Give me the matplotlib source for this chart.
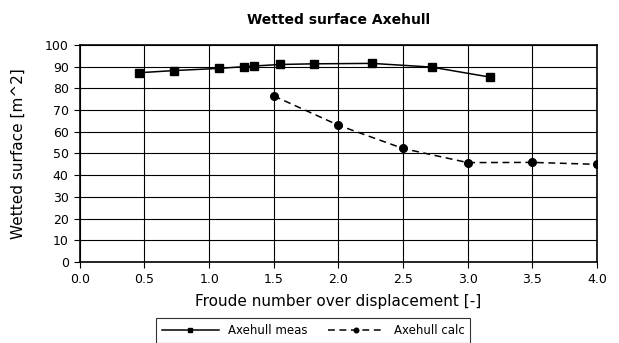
import numpy as np
import matplotlib.pyplot as plt

# Measured wetted surface
fr_meas = [0.46, 0.73, 1.08, 1.27, 1.35, 1.55, 1.81, 2.26, 2.72, 3.17]
ws_meas = [87.2, 88.2, 89.2, 90.0, 90.3, 91.0, 91.3, 91.5, 89.8, 85.2]

# Calculated wetted surface
fr_calc = [1.5, 2.0, 2.5, 3.0, 3.5, 4.0]
ws_calc = [76.5, 63.0, 52.3, 45.8, 45.9, 45.0]

fig = plt.figure(figsize=(6.19, 3.43), dpi=100)
ax = fig.add_axes([0.129, 0.236, 0.8355, 0.633])

ax.plot(fr_meas, ws_meas, color='black', marker='s', markersize=5.5,
        linewidth=1.1, label='Axehull meas')
ax.plot(fr_calc, ws_calc, color='black', marker='o', markersize=5.5,
        linewidth=1.1, linestyle=(0, (4.5, 3)), label='Axehull calc')

ax.set_xlim(0, 4)
ax.set_ylim(0, 100)
ax.set_xticks(np.arange(0, 4.01, 0.5))
ax.set_yticks(np.arange(0, 101, 10))
ax.set_xticklabels([f'{v:.1f}' for v in np.arange(0, 4.01, 0.5)])
ax.tick_params(labelsize=9, length=4.5, width=0.8, direction='out')
ax.grid(True, color='black', linewidth=0.8)
for s in ax.spines.values():
    s.set_linewidth(1.2)

ax.set_xlabel('Froude number over displacement [-]', fontsize=11, labelpad=6)
ax.set_ylabel('Wetted surface [m^2]', fontsize=11, labelpad=14)
ax.set_title('Wetted surface Axehull', fontsize=10, fontweight='bold', pad=15)

leg = fig.legend(loc='upper center', bbox_to_anchor=(0.506, 0.09), ncol=2,
                 fontsize=8.5, frameon=True, fancybox=False, edgecolor='black',
                 handlelength=4.8, handletextpad=0.8, columnspacing=1.7,
                 markerscale=0.6, borderpad=0.5)
leg.get_frame().set_linewidth(0.8)

plt.savefig('out.png', dpi=100)
